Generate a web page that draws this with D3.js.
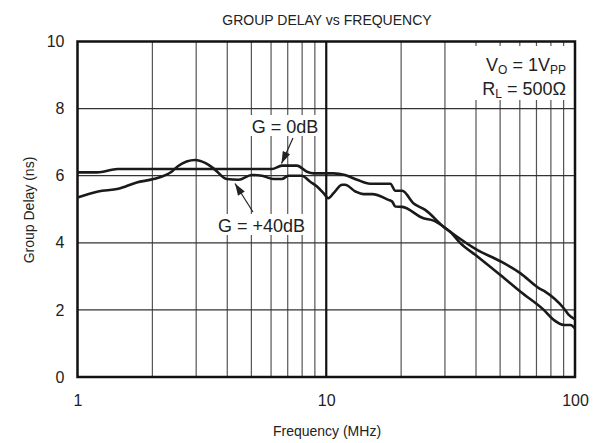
<!DOCTYPE html>
<html><head><meta charset="utf-8">
<script src="https://cdn.jsdelivr.net/npm/d3@7"></script>
<style>body{margin:0;background:#fff}svg{display:block;font-family:"Liberation Sans",Arial,sans-serif}</style>
</head><body><svg id="c" width="601" height="443"></svg>
<script>
const xTicks = [1, 10, 100];
const yTicks = [0, 2, 4, 6, 8, 10];
const freq0 = [1, 1.2, 1.45, 6.05, 6.63, 7.62, 8.36, 8.89, 10.7, 11.9, 13.3, 15.0, 18.1, 18.96, 20.2, 22.4, 25.0, 29.6, 31.5, 34.6, 40.4, 50.1, 60.4, 74.9, 82.2, 90.1, 95.9, 100];
const delay0 = [6.1, 6.1, 6.2, 6.2, 6.3, 6.3, 6.12, 6.07, 6.07, 6.02, 5.88, 5.76, 5.76, 5.55, 5.55, 5.18, 4.98, 4.48, 4.33, 3.99, 3.6, 3.04, 2.54, 2.0, 1.7, 1.55, 1.55, 1.45];
const freq40 = [1, 1.21, 1.46, 1.73, 2.02, 2.39, 2.54, 2.97, 3.26, 3.52, 3.98, 4.44, 5.02, 5.51, 6.14, 6.63, 7.05, 7.98, 8.62, 9.18, 9.75, 10.2, 10.7, 11.6, 11.9, 13.1, 14.1, 15.3, 17.8, 18.4, 18.96, 20.2, 24.6, 27.0, 29.6, 31.5, 40.4, 50.1, 60.4, 71.5, 76.1, 90.1, 94.4, 100];
const delay40 = [5.35, 5.53, 5.61, 5.8, 5.9, 6.12, 6.29, 6.47, 6.38, 6.22, 5.9, 5.88, 6.02, 6.0, 5.9, 5.9, 6.0, 6.0, 5.82, 5.68, 5.48, 5.33, 5.48, 5.73, 5.73, 5.53, 5.45, 5.45, 5.28, 5.23, 5.08, 5.07, 4.73, 4.66, 4.48, 4.33, 3.79, 3.45, 3.09, 2.65, 2.54, 2.05, 1.85, 1.72];

const svg = d3.select("#c");
const L = 77.5, R = 575, T = 41.5, B = 377;
const x = d3.scaleLog().domain([1, 100]).range([L, R]);
const y = d3.scaleLinear().domain([0, 10]).range([B, T]);
const grid = "#555";
const FONT = "Liberation Sans, Arial, sans-serif";

// minor vertical gridlines
const minor = [];
for (const d of [1, 10]) for (let k = 2; k <= 9; k++) minor.push(d * k);
svg.append("g").selectAll("line").data(minor).join("line")
  .attr("x1", d => x(d)).attr("x2", d => x(d)).attr("y1", T).attr("y2", B)
  .attr("stroke", grid).attr("stroke-width", 1.2);
// horizontal gridlines
svg.append("g").selectAll("line").data(yTicks.slice(1, -1)).join("line")
  .attr("x1", L).attr("x2", R).attr("y1", d => y(d)).attr("y2", d => y(d))
  .attr("stroke", "#333").attr("stroke-width", 1.2);

// white boxes behind annotations
svg.append("rect").attr("x", 473).attr("y", 46).attr("width", 99).attr("height", 54).attr("fill", "#fff");
svg.append("rect").attr("x", 248).attr("y", 115).attr("width", 74).attr("height", 21).attr("fill", "#fff");
svg.append("rect").attr("x", 213).attr("y", 214).attr("width", 97).attr("height", 21).attr("fill", "#fff");

// decade line at 10
svg.append("line").attr("x1", x(10)).attr("x2", x(10)).attr("y1", T).attr("y2", B)
  .attr("stroke", "#111").attr("stroke-width", 2.2);

// frame
svg.append("rect").attr("x", L).attr("y", T).attr("width", R - L).attr("height", B - T)
  .attr("fill", "none").attr("stroke", "#111").attr("stroke-width", 2.5);

// curves
const line = d3.line().x(d => x(d[0])).y(d => y(d[1])).curve(d3.curveMonotoneX);
const s0 = freq0.map((f, i) => [f, delay0[i]]);
const s40 = freq40.map((f, i) => [f, delay40[i]]);
[s0, s40].forEach(s => svg.append("path").datum(s).attr("d", line)
  .attr("fill", "none").attr("stroke", "#1a1a1a").attr("stroke-width", 2.6).attr("stroke-linejoin", "round"));

// axes (labels only)
const xa = svg.append("g").attr("transform", `translate(0,${B})`)
  .call(d3.axisBottom(x).tickValues(xTicks).tickFormat(d3.format("d")).tickSize(0).tickPadding(18));
const ya = svg.append("g").attr("transform", `translate(${L},0)`)
  .call(d3.axisLeft(y).tickValues(yTicks).tickSize(0).tickPadding(13));
[xa, ya].forEach(a => { a.select(".domain").remove(); a.selectAll("text").attr("font-size", 16).attr("fill", "#222").attr("font-family", FONT); });

// titles
svg.append("text").attr("x", 327).attr("y", 25).attr("text-anchor", "middle").attr("font-size", 14).attr("fill", "#222").text("GROUP DELAY vs FREQUENCY");
svg.append("text").attr("x", 327).attr("y", 436).attr("text-anchor", "middle").attr("font-size", 14).attr("fill", "#222").text("Frequency (MHz)");
svg.append("text").attr("transform", "translate(34,210) rotate(-90)").attr("text-anchor", "middle").attr("font-size", 14).attr("fill", "#222").text("Group Delay (ns)");

// condition box
const t1 = svg.append("text").attr("x", 566).attr("y", 71).attr("text-anchor", "end").attr("font-size", 18).attr("fill", "#222");
t1.append("tspan").text("V");
t1.append("tspan").attr("font-size", 12).attr("dy", 3).text("O");
t1.append("tspan").attr("dy", -3).text(" = 1V");
t1.append("tspan").attr("font-size", 12).attr("dy", 3).text("PP");
const t2 = svg.append("text").attr("x", 566).attr("y", 95).attr("text-anchor", "end").attr("font-size", 18).attr("fill", "#222");
t2.append("tspan").text("R");
t2.append("tspan").attr("font-size", 12).attr("dy", 3).text("L");
t2.append("tspan").attr("dy", -3).text(" = 500Ω");

// annotations
svg.append("text").attr("x", 285).attr("y", 133).attr("text-anchor", "middle").attr("font-size", 18).attr("fill", "#222").text("G = 0dB");
svg.append("text").attr("x", 261.5).attr("y", 232).attr("text-anchor", "middle").attr("font-size", 18).attr("fill", "#222").text("G = +40dB");

function arrow(x1, y1, x2, y2) {
  svg.append("line").attr("x1", x1).attr("y1", y1).attr("x2", x2).attr("y2", y2).attr("stroke", "#222").attr("stroke-width", 1.2);
  const a = Math.atan2(y2 - y1, x2 - x1), len = 12, w = 4;
  const bx = x2 - len * Math.cos(a), by = y2 - len * Math.sin(a);
  const px = -Math.sin(a) * w, py = Math.cos(a) * w;
  svg.append("path").attr("d", `M${x2},${y2}L${bx + px},${by + py}L${bx - px},${by - py}Z`).attr("fill", "#222");
}
arrow(293, 138, 281.5, 163.5);
arrow(253, 212, 235, 183.5);
</script></body></html>
